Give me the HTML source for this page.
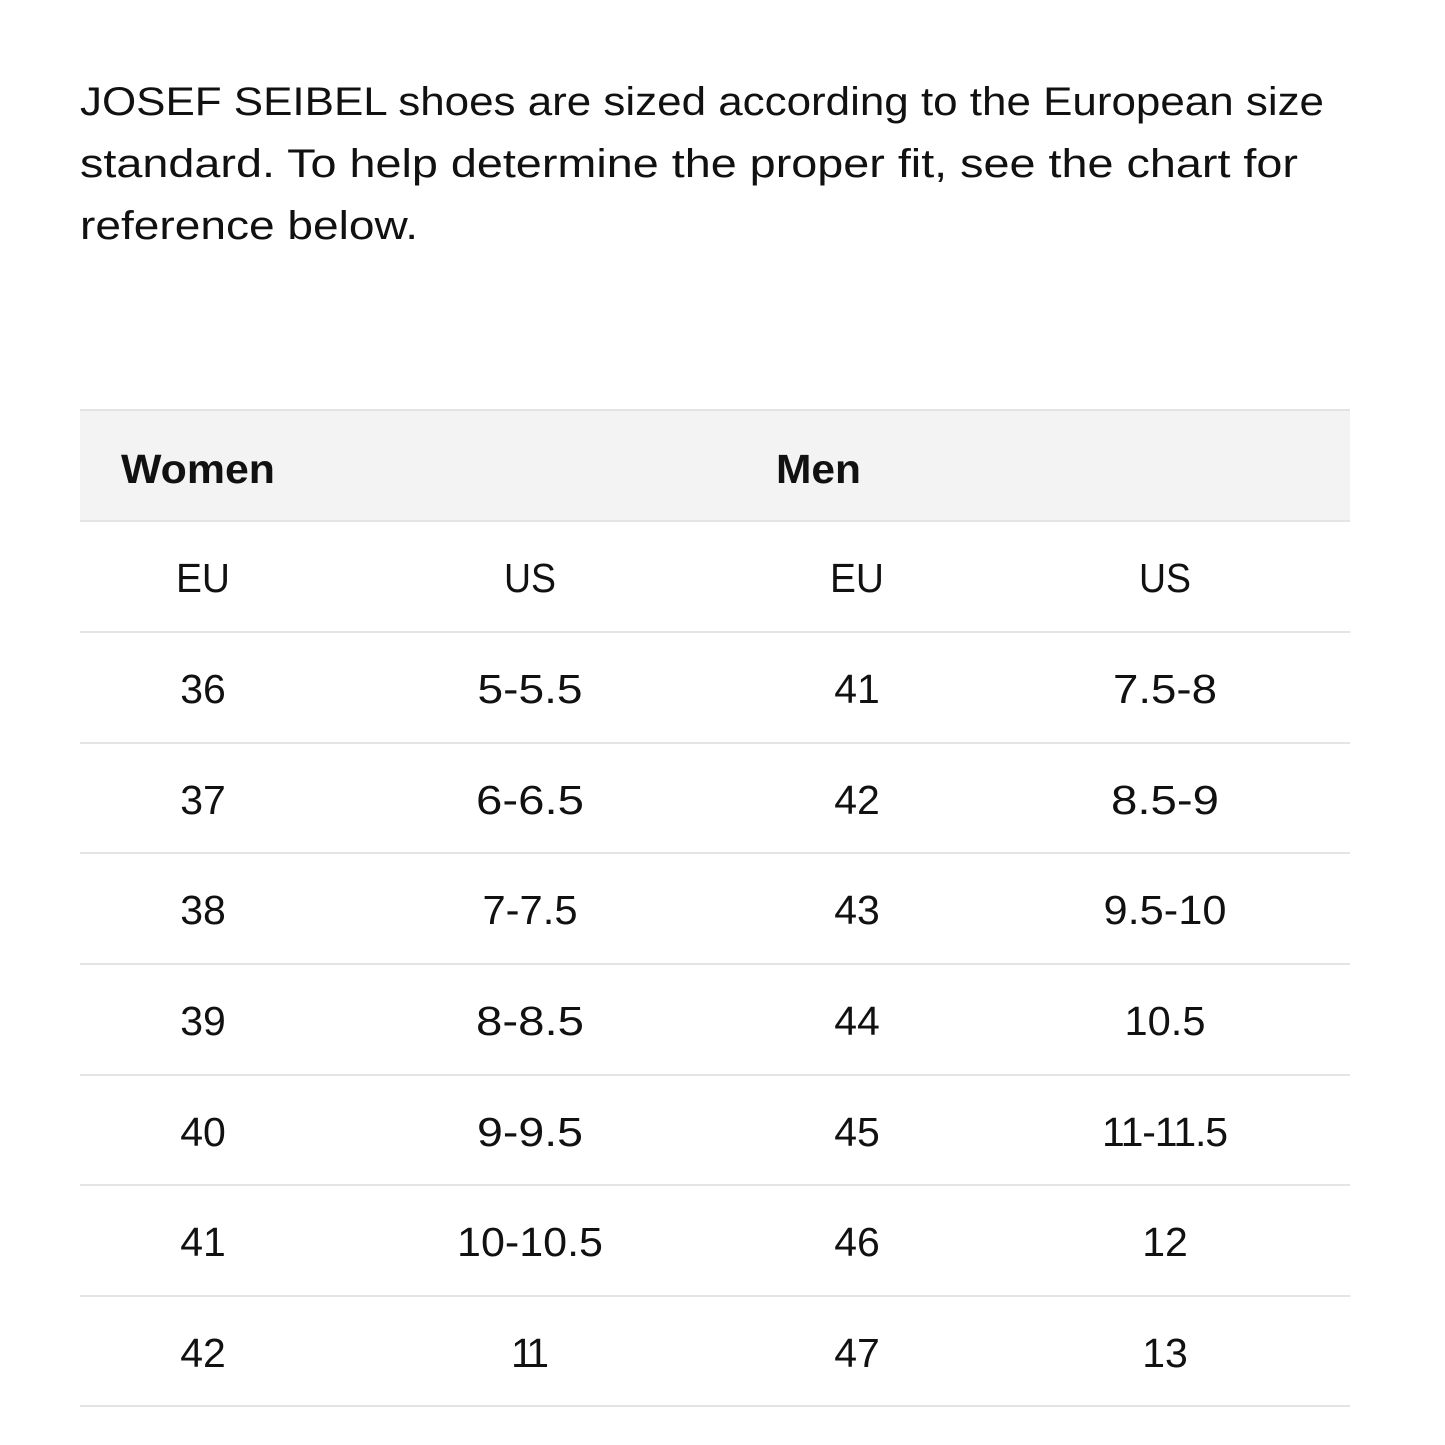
<!DOCTYPE html>
<html>
<head>
<meta charset="utf-8">
<style>
html,body{margin:0;padding:0;background:#fff;}
svg{display:block;}
text{font-family:"Liberation Sans",sans-serif;fill:#111;}
</style>
</head>
<body>
<svg width="1445" height="1445" viewBox="0 0 1445 1445" xmlns="http://www.w3.org/2000/svg">
<rect width="1445" height="1445" fill="#fff"/>
<g font-size="40">
<text x="80" y="115" textLength="1244" lengthAdjust="spacingAndGlyphs">JOSEF SEIBEL shoes are sized according to the European size</text>
<text x="80" y="177" textLength="1218" lengthAdjust="spacingAndGlyphs">standard. To help determine the proper fit, see the chart for</text>
<text x="80" y="239" textLength="338" lengthAdjust="spacingAndGlyphs">reference below.</text>
</g>
<rect x="80" y="410" width="1270" height="111" fill="#f3f3f3"/>
<g fill="#e4e4e4">
<rect x="80" y="409" width="1270" height="2"/>
<rect x="80" y="520" width="1270" height="2"/>
<rect x="80" y="631" width="1270" height="2"/>
<rect x="80" y="742" width="1270" height="2"/>
<rect x="80" y="852" width="1270" height="2"/>
<rect x="80" y="963" width="1270" height="2"/>
<rect x="80" y="1074" width="1270" height="2"/>
<rect x="80" y="1184" width="1270" height="2"/>
<rect x="80" y="1295" width="1270" height="2"/>
<rect x="80" y="1405" width="1270" height="2"/>
</g>
<g font-size="41" font-weight="bold">
<text x="121" y="483" textLength="154" lengthAdjust="spacingAndGlyphs">Women</text>
<text x="776" y="483" textLength="85" lengthAdjust="spacingAndGlyphs">Men</text>
</g>
<g font-size="41" text-anchor="middle">
<text x="203" y="592" textLength="54" lengthAdjust="spacingAndGlyphs">EU</text><text x="530" y="592" textLength="52" lengthAdjust="spacingAndGlyphs">US</text><text x="857" y="592" textLength="54" lengthAdjust="spacingAndGlyphs">EU</text><text x="1165" y="592" textLength="52" lengthAdjust="spacingAndGlyphs">US</text>
<text x="203" y="703">36</text><text x="530" y="703" textLength="105" lengthAdjust="spacingAndGlyphs">5-5.5</text><text x="857" y="703">41</text><text x="1165" y="703" textLength="104" lengthAdjust="spacingAndGlyphs">7.5-8</text>
<text x="203" y="814">37</text><text x="530" y="814" textLength="108" lengthAdjust="spacingAndGlyphs">6-6.5</text><text x="857" y="814">42</text><text x="1165" y="814" textLength="108" lengthAdjust="spacingAndGlyphs">8.5-9</text>
<text x="203" y="924">38</text><text x="530" y="924" textLength="95" lengthAdjust="spacingAndGlyphs">7-7.5</text><text x="857" y="924">43</text><text x="1165" y="924" textLength="123" lengthAdjust="spacingAndGlyphs">9.5-10</text>
<text x="203" y="1035">39</text><text x="530" y="1035" textLength="108" lengthAdjust="spacingAndGlyphs">8-8.5</text><text x="857" y="1035">44</text><text x="1165" y="1035" textLength="81" lengthAdjust="spacingAndGlyphs">10.5</text>
<text x="203" y="1146">40</text><text x="530" y="1146" textLength="106" lengthAdjust="spacingAndGlyphs">9-9.5</text><text x="857" y="1146">45</text><text x="1165" y="1146" textLength="126" lengthAdjust="spacing">11-11.5</text>
<text x="203" y="1256">41</text><text x="530" y="1256" textLength="146" lengthAdjust="spacingAndGlyphs">10-10.5</text><text x="857" y="1256">46</text><text x="1165" y="1256">12</text>
<text x="203" y="1367">42</text><text x="530" y="1367" textLength="38" lengthAdjust="spacing">11</text><text x="857" y="1367">47</text><text x="1165" y="1367">13</text>
</g>
</svg>
</body>
</html>
